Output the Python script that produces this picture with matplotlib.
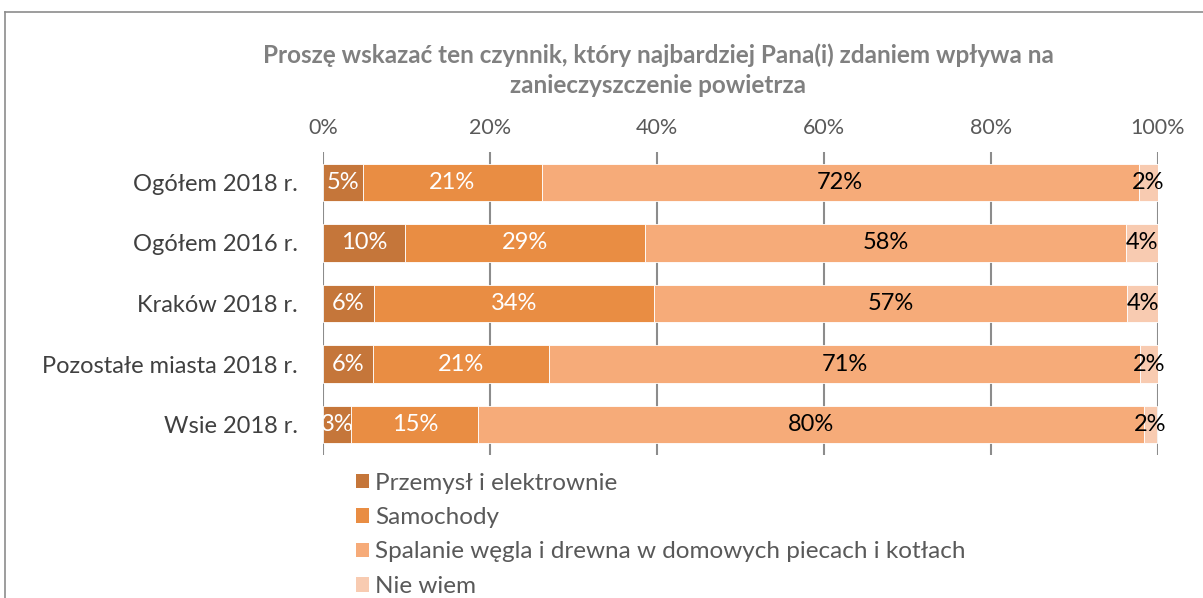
import matplotlib
matplotlib.use("Agg")
import matplotlib.pyplot as plt
from matplotlib.lines import Line2D
from matplotlib.patches import Patch
import numpy as np

plt.rcParams["font.family"] = ["Lato", "DejaVu Sans"]

categories = ["Ogółem 2018 r.", "Ogółem 2016 r.", "Kraków 2018 r.",
              "Pozostałe miasta 2018 r.", "Wsie 2018 r."]
series_names = ["Przemysł i elektrownie", "Samochody",
                "Spalanie węgla i drewna w domowych piecach i kotłach", "Nie wiem"]
przemysl = [4.8, 9.8, 6.1, 6.0, 3.4]
samochody = [21.4, 28.8, 33.6, 21.1, 15.2]
spalanie = [71.5, 57.6, 56.6, 70.7, 79.7]
nie_wiem = [2.3, 3.8, 3.8, 2.2, 1.6]
ticks = [0, 20, 40, 60, 80, 100]
title = "Proszę wskazać ten czynnik, który najbardziej Pana(i) zdaniem wpływa na\nzanieczyszczenie powietrza"

colors = ["#C5763A", "#E98D43", "#F6AB79", "#F8CBB1"]
label_colors = ["white", "white", "black", "black"]

fig = plt.figure(figsize=(12.03, 5.98), dpi=100)
ax = fig.add_axes([323 / 1203, 1 - 455 / 598, 835 / 1203, 303 / 598])

y = np.arange(len(categories))
left = np.zeros(len(categories))
for vals, name, col, lc in zip([przemysl, samochody, spalanie, nie_wiem],
                               series_names, colors, label_colors):
    vals = np.array(vals)
    ax.barh(y, vals, left=left, height=0.62, color=col, label=name,
            edgecolor="white", linewidth=0.6, zorder=2)
    for yi, l, v in zip(y, left, vals):
        ax.text(l + v / 2, yi, f"{v:.0f}%", ha="center", va="center",
                fontsize=17, color=lc, zorder=3)
    left += vals

ax.set_xlim(0, 100)
ax.set_ylim(len(categories) - 0.5, -0.5)
ax.set_yticks(y)
ax.set_yticklabels(categories, fontsize=17, color="#404040")
ax.set_xticks(ticks)
ax.set_xticklabels([f"{t}%" for t in ticks], fontsize=15.5, color="#595959")
ax.xaxis.tick_top()
ax.tick_params(axis="both", length=0)
ax.tick_params(axis="x", pad=10)
ax.tick_params(axis="y", pad=18)
ax.grid(True, axis="x", color="#8C8C8C", linewidth=1.5, zorder=0)
for s in ax.spines.values():
    s.set_visible(False)

fig.text(658 / 1203, 1 - 70 / 598, title, ha="center", va="center",
         fontsize=17.5, fontweight="bold", color="#808080", linespacing=1.35)

handles = [Patch(facecolor=c, edgecolor="none") for c in colors]
fig.legend(handles, series_names, loc="upper left",
           bbox_to_anchor=(346 / 1203, 1 - 463 / 598), frameon=False,
           fontsize=17.5, labelcolor="#595959", handlelength=0.55,
           handleheight=0.55, handletextpad=0.25, labelspacing=0.55,
           borderaxespad=0)

# chart border
fig.add_artist(Line2D([5 / 1203, 1.0], [1 - 12 / 598] * 2, color="#8C8C8C", linewidth=1.2))
fig.add_artist(Line2D([5 / 1203] * 2, [0, 1 - 12 / 598], color="#8C8C8C", linewidth=1.2))

fig.savefig("out.png", dpi=100)
